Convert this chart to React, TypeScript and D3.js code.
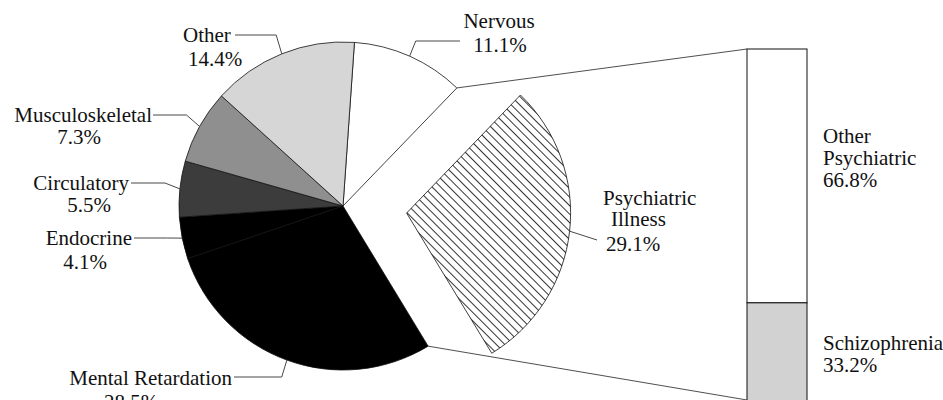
import React from 'react';
import * as d3 from 'd3';

// main pie, clockwise from the top
const categories = [
  'Nervous',
  'Psychiatric Illness',
  'Mental Retardation',
  'Endocrine',
  'Circulatory',
  'Musculoskeletal',
  'Other',
];
const shares = [11.1, 29.1, 28.5, 4.1, 5.5, 7.3, 14.4];

// breakdown of the exploded slice
const subCategories = ['Other Psychiatric', 'Schizophrenia'];
const subShares = [66.8, 33.2];

const W = 943;
const H = 400;
const cx = 343;
const cy = 206;
const R = 164;
const explode = 64;
const startDeg = 4;
const font = 'Liberation Serif, Times New Roman, serif';

const sliceFill = {
  Nervous: '#ffffff',
  'Psychiatric Illness': 'url(#hatch)',
  'Mental Retardation': '#000000',
  Endocrine: '#000000',
  Circulatory: '#3c3c3c',
  Musculoskeletal: '#8f8f8f',
  Other: '#d6d6d6',
};
const subFill = { 'Other Psychiatric': '#ffffff', Schizophrenia: '#d2d2d2' };

// label layout: text lines [text, x, baseline, anchor], leader end
const labelLayout = {
  Nervous: { lines: [['Nervous', 499, 28, 'middle'], ['pct', 500, 52, 'middle']], leaderY: 41, leaderX: 460 },
  Other: { lines: [['Other', 183, 42, 'start'], ['pct', 188, 66, 'start']], leaderY: 35, leaderX: 235 },
  Musculoskeletal: { lines: [['Musculoskeletal', 152, 122, 'end'], ['pct', 79, 144, 'middle']], leaderY: 115, leaderX: 153 },
  Circulatory: { lines: [['Circulatory', 129, 190, 'end'], ['pct', 89, 212, 'middle']], leaderY: 183, leaderX: 131 },
  Endocrine: { lines: [['Endocrine', 132, 245, 'end'], ['pct', 85, 269, 'middle']], leaderY: 238, leaderX: 134 },
  'Mental Retardation': { lines: [['Mental Retardation', 232, 385, 'end'], ['pct', 131, 409, 'middle']], leaderY: 377, leaderX: 234 },
  'Psychiatric Illness': {
    lines: [['Psychiatric', 603, 205, 'start'], ['Illness', 611, 226, 'start'], ['pct', 606, 251, 'start']],
    leaderY: 240,
    leaderX: 597,
  },
};

const subLabelLayout = {
  'Other Psychiatric': [['Other', 143], ['Psychiatric', 165], ['pct', 187]],
  Schizophrenia: [['Schizophrenia', 350], ['pct', 372]],
};

const barX = 747;
const barW = 60;
const subLabelX = 823;

const fmt = (v: number) => `${v.toFixed(1)}%`;

function pt(angle: number, r: number, ox = cx, oy = cy): [number, number] {
  return [ox + r * Math.sin(angle), oy - r * Math.cos(angle)];
}

export default function App() {
  const a0 = (startDeg * Math.PI) / 180;
  const arcs = d3
    .pie<number>()
    .sort(null)
    .startAngle(a0)
    .endAngle(a0 + 2 * Math.PI)(shares);

  const arc = d3.arc<d3.PieArcDatum<number>>().innerRadius(0).outerRadius(R);

  const yBar = d3.scaleLinear().domain([0, 100]).range([49, 429]);
  const stacked = d3.cumsum(subShares);

  const psyIndex = categories.indexOf('Psychiatric Illness');
  const psy = arcs[psyIndex];
  const psyMid = (psy.startAngle + psy.endAngle) / 2;
  const [ex, ey] = pt(psyMid, explode, 0, 0);

  const topJoin = pt(psy.startAngle, R);
  const botJoin = pt(psy.endAngle, R);

  return (
    <svg
      width={W}
      height={H}
      style={{ position: 'absolute', left: 0, top: 0, background: '#fff', fontFamily: font, fontSize: 21 }}
    >
      <defs>
        <pattern id="hatch" width={6} height={6} patternUnits="userSpaceOnUse" patternTransform="rotate(-45)">
          <rect width={6} height={6} fill="#fff" />
          <line x1={0} y1={0} x2={0} y2={6} stroke="#000" strokeWidth={1.6} />
        </pattern>
      </defs>

      {/* connectors from the pie gap to the bar */}
      <line x1={topJoin[0]} y1={topJoin[1]} x2={barX} y2={yBar(0)} stroke="#222" strokeWidth={0.8} />
      <line
        x1={botJoin[0]}
        y1={botJoin[1]}
        x2={barX}
        y2={Math.min(yBar(100), H)}
        stroke="#222"
        strokeWidth={0.8}
      />

      {/* pie */}
      <g transform={`translate(${cx},${cy})`}>
        {arcs.map((d, i) => {
          const name = categories[i];
          const isPsy = i === psyIndex;
          return (
            <path
              key={name}
              d={arc(d) as string}
              transform={isPsy ? `translate(${ex},${ey})` : undefined}
              fill={sliceFill[name]}
              stroke="#111"
              strokeWidth={0.8}
            />
          );
        })}
      </g>

      {/* leaders and labels */}
      {arcs.map((d, i) => {
        const name = categories[i];
        const lay = labelLayout[name];
        const mid = (d.startAngle + d.endAngle) / 2;
        const isPsy = i === psyIndex;
        const ox = isPsy ? cx + ex : cx;
        const oy = isPsy ? cy + ey : cy;
        const p0 = pt(mid, R, ox, oy);
        const p1 = pt(mid, R + 15, ox, oy);
        const pts = isPsy
          ? [p0, [lay.leaderX, lay.leaderY]]
          : [p0, [p1[0], lay.leaderY], [lay.leaderX, lay.leaderY]];
        return (
          <g key={name}>
            <polyline points={pts.map((p) => p.join(',')).join(' ')} fill="none" stroke="#333" strokeWidth={0.9} />
            {lay.lines.map(([t, x, y, anchor]) => (
              <text key={t + y} x={x} y={y} textAnchor={anchor} fill="#111">
                {t === 'pct' ? fmt(shares[i]) : t}
              </text>
            ))}
          </g>
        );
      })}

      {/* stacked bar for the psychiatric breakdown */}
      {subCategories.map((name, i) => {
        const y0 = yBar(stacked[i] - subShares[i]);
        const y1 = yBar(stacked[i]);
        return (
          <g key={name}>
            <rect x={barX} y={y0} width={barW} height={y1 - y0} fill={subFill[name]} stroke="#111" strokeWidth={1} />
            {subLabelLayout[name].map(([t, y]) => (
              <text key={t} x={subLabelX} y={y} fill="#111">
                {t === 'pct' ? fmt(subShares[i]) : t}
              </text>
            ))}
          </g>
        );
      })}
    </svg>
  );
}
